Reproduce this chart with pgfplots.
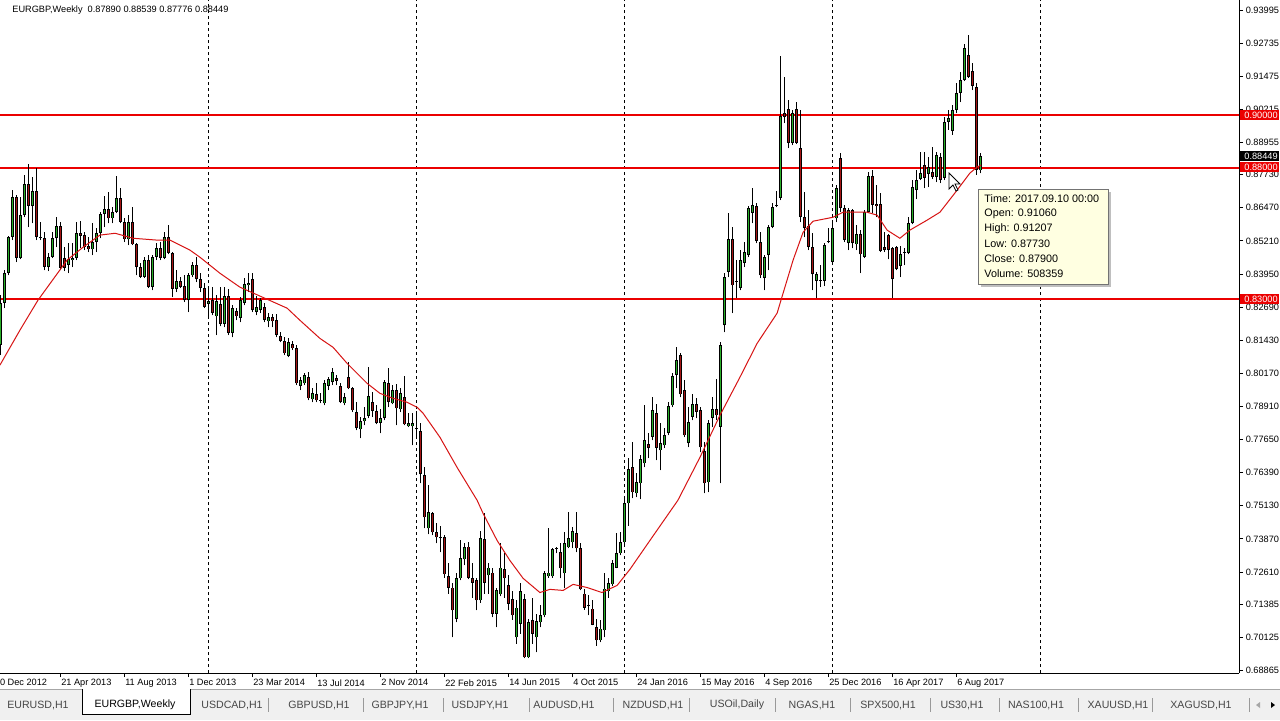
\documentclass[border=0pt]{standalone}
\usepackage{fontspec}
\setmainfont{Liberation Sans}
\usepackage{pgfplots}
\usepackage{pgfplotstable}
\pgfplotsset{compat=1.18}

\definecolor{upc}{RGB}{40,175,40}
\definecolor{dnc}{RGB}{165,20,20}
\definecolor{lvl}{RGB}{235,0,0}
\definecolor{ma}{RGB}{215,20,20}
\definecolor{tabbg}{RGB}{240,240,240}
\definecolor{tabtx}{RGB}{70,70,70}
\definecolor{tipbg}{RGB}{255,255,225}

% weekly candles: index, open, high, low, close
\pgfplotstableread{
i o h l c
0 0.8124 0.8314 0.8086 0.8284
1 0.8284 0.8409 0.8265 0.8398
2 0.8398 0.8539 0.8390 0.8535
3 0.8535 0.8714 0.8524 0.8687
4 0.8687 0.8695 0.8440 0.8455
5 0.8455 0.8687 0.8451 0.8619
6 0.8619 0.8771 0.8611 0.8737
7 0.8737 0.8813 0.8573 0.8653
8 0.8653 0.8764 0.8588 0.8710
9 0.8710 0.8798 0.8524 0.8535
10 0.8535 0.8592 0.8524 0.8532
11 0.8532 0.8554 0.8409 0.8421
12 0.8421 0.8474 0.8406 0.8459
13 0.8459 0.8554 0.8455 0.8531
14 0.8531 0.8611 0.8497 0.8577
15 0.8577 0.8592 0.8409 0.8417
16 0.8455 0.8497 0.8406 0.8417
17 0.8429 0.8512 0.8398 0.8451
18 0.8448 0.8512 0.8421 0.8455
19 0.8455 0.8592 0.8448 0.8550
20 0.8550 0.8596 0.8493 0.8539
21 0.8543 0.8554 0.8486 0.8497
22 0.8501 0.8535 0.8478 0.8489
23 0.8489 0.8588 0.8467 0.8516
24 0.8516 0.8569 0.8478 0.8550
25 0.8550 0.8630 0.8531 0.8623
26 0.8623 0.8691 0.8573 0.8642
27 0.8642 0.8707 0.8588 0.8607
28 0.8607 0.8649 0.8588 0.8630
29 0.8630 0.8767 0.8627 0.8684
30 0.8684 0.8722 0.8588 0.8592
31 0.8592 0.8607 0.8516 0.8527
32 0.8527 0.8619 0.8505 0.8592
33 0.8592 0.8649 0.8505 0.8508
34 0.8508 0.8512 0.8390 0.8421
35 0.8421 0.8436 0.8379 0.8383
36 0.8383 0.8459 0.8379 0.8448
37 0.8448 0.8467 0.8341 0.8345
38 0.8345 0.8467 0.8333 0.8459
39 0.8459 0.8512 0.8448 0.8493
40 0.8493 0.8516 0.8448 0.8455
41 0.8455 0.8554 0.8451 0.8535
42 0.8535 0.8581 0.8470 0.8474
43 0.8474 0.8478 0.8307 0.8337
44 0.8337 0.8409 0.8326 0.8368
45 0.8368 0.8383 0.8341 0.8345
46 0.8349 0.8390 0.8288 0.8295
47 0.8295 0.8398 0.8250 0.8390
48 0.8390 0.8440 0.8383 0.8429
49 0.8429 0.8459 0.8364 0.8375
50 0.8375 0.8398 0.8326 0.8341
51 0.8341 0.8360 0.8265 0.8269
52 0.8280 0.8345 0.8230 0.8291
53 0.8295 0.8345 0.8238 0.8246
54 0.8234 0.8314 0.8162 0.8291
55 0.8280 0.8345 0.8196 0.8204
56 0.8204 0.8345 0.8192 0.8311
57 0.8311 0.8337 0.8162 0.8170
58 0.8170 0.8276 0.8154 0.8265
59 0.8253 0.8265 0.8219 0.8234
60 0.8227 0.8307 0.8211 0.8295
61 0.8284 0.8379 0.8276 0.8356
62 0.8352 0.8398 0.8326 0.8360
63 0.8375 0.8398 0.8250 0.8257
64 0.8250 0.8311 0.8238 0.8269
65 0.8257 0.8303 0.8246 0.8295
66 0.8269 0.8284 0.8211 0.8219
67 0.8215 0.8246 0.8192 0.8230
68 0.8230 0.8242 0.8192 0.8215
69 0.8219 0.8242 0.8154 0.8162
70 0.8158 0.8173 0.8135 0.8139
71 0.8139 0.8154 0.8086 0.8093
72 0.8082 0.8150 0.8078 0.8135
73 0.8128 0.8139 0.8105 0.8112
74 0.8112 0.8124 0.7972 0.7979
75 0.7968 0.8002 0.7953 0.7991
76 0.7979 0.8017 0.7972 0.8010
77 0.8002 0.8021 0.7914 0.7922
78 0.7918 0.7960 0.7907 0.7941
79 0.7937 0.7979 0.7907 0.7914
80 0.7914 0.7941 0.7903 0.7911
81 0.7903 0.7991 0.7895 0.7979
82 0.7968 0.8002 0.7953 0.7994
83 0.7983 0.8036 0.7972 0.8021
84 0.7998 0.8010 0.7972 0.7987
85 0.7968 0.7979 0.7903 0.7907
86 0.7903 0.7941 0.7895 0.7926
87 0.8002 0.8059 0.7956 0.7960
88 0.7960 0.7964 0.7869 0.7876
89 0.7869 0.7907 0.7800 0.7808
90 0.7804 0.7850 0.7770 0.7834
91 0.7834 0.7888 0.7819 0.7846
92 0.7854 0.8040 0.7846 0.7930
93 0.7907 0.7945 0.7850 0.7873
94 0.7873 0.7895 0.7823 0.7827
95 0.7827 0.7880 0.7789 0.7846
96 0.7846 0.7991 0.7838 0.7983
97 0.7979 0.8036 0.7888 0.7907
98 0.7903 0.7972 0.7899 0.7953
99 0.7953 0.7975 0.7819 0.7884
100 0.7880 0.7960 0.7869 0.7941
101 0.7926 0.8006 0.7819 0.7823
102 0.7815 0.7865 0.7812 0.7827
103 0.7815 0.7865 0.7743 0.7827
104 0.7808 0.7873 0.7777 0.7805
105 0.7796 0.7827 0.7598 0.7633
106 0.7629 0.7659 0.7427 0.7469
107 0.7427 0.7591 0.7404 0.7488
108 0.7484 0.7488 0.7400 0.7412
109 0.7412 0.7446 0.7370 0.7393
110 0.7393 0.7438 0.7336 0.7389
111 0.7393 0.7400 0.7240 0.7252
112 0.7244 0.7297 0.7179 0.7202
113 0.7202 0.7218 0.7012 0.7115
114 0.7084 0.7256 0.7069 0.7237
115 0.7237 0.7381 0.7229 0.7313
116 0.7309 0.7370 0.7286 0.7355
117 0.7358 0.7374 0.7233 0.7240
118 0.7237 0.7294 0.7164 0.7221
119 0.7229 0.7240 0.7115 0.7153
120 0.7153 0.7419 0.7145 0.7389
121 0.7385 0.7484 0.7179 0.7221
122 0.7248 0.7297 0.7179 0.7278
123 0.7259 0.7278 0.7088 0.7103
124 0.7103 0.7202 0.7050 0.7191
125 0.7176 0.7370 0.7168 0.7278
126 0.7271 0.7332 0.7164 0.7237
127 0.7210 0.7248 0.7115 0.7141
128 0.7157 0.7187 0.7080 0.7096
129 0.7012 0.7153 0.6989 0.7126
130 0.7065 0.7221 0.7027 0.7187
131 0.7157 0.7179 0.6932 0.6936
132 0.6936 0.7084 0.6932 0.7069
133 0.7077 0.7161 0.6989 0.7027
134 0.7012 0.7103 0.6955 0.7073
135 0.7069 0.7134 0.7050 0.7096
136 0.7096 0.7263 0.7088 0.7256
137 0.7244 0.7427 0.7240 0.7259
138 0.7244 0.7351 0.7240 0.7347
139 0.7351 0.7355 0.7332 0.7348
140 0.7336 0.7370 0.7237 0.7275
141 0.7256 0.7412 0.7202 0.7370
142 0.7355 0.7488 0.7351 0.7389
143 0.7374 0.7431 0.7351 0.7416
144 0.7408 0.7488 0.7336 0.7351
145 0.7351 0.7370 0.7191 0.7195
146 0.7179 0.7198 0.7118 0.7126
147 0.7134 0.7172 0.7096 0.7130
148 0.7122 0.7153 0.7058 0.7061
149 0.7050 0.7084 0.6981 0.7001
150 0.7001 0.7080 0.6993 0.7046
151 0.7039 0.7256 0.7012 0.7198
152 0.7187 0.7240 0.7164 0.7218
153 0.7214 0.7305 0.7206 0.7294
154 0.7278 0.7408 0.7275 0.7332
155 0.7332 0.7412 0.7324 0.7374
156 0.7374 0.7541 0.7366 0.7522
157 0.7522 0.7694 0.7438 0.7652
158 0.7659 0.7754 0.7541 0.7564
159 0.7560 0.7636 0.7545 0.7602
160 0.7598 0.7705 0.7537 0.7690
161 0.7674 0.7895 0.7659 0.7762
162 0.7747 0.7789 0.7694 0.7732
163 0.7774 0.7926 0.7762 0.7876
164 0.7865 0.7899 0.7686 0.7732
165 0.7724 0.7827 0.7648 0.7751
166 0.7743 0.7808 0.7732 0.7781
167 0.7789 0.7907 0.7781 0.7892
168 0.7895 0.8017 0.7888 0.8006
169 0.8010 0.8116 0.7960 0.8067
170 0.8086 0.8093 0.7926 0.7937
171 0.7953 0.7991 0.7774 0.7781
172 0.7751 0.7888 0.7735 0.7831
173 0.7850 0.7937 0.7838 0.7899
174 0.7899 0.7922 0.7846 0.7869
175 0.7876 0.7888 0.7716 0.7735
176 0.7720 0.7754 0.7560 0.7598
177 0.7602 0.7838 0.7564 0.7827
178 0.7846 0.7926 0.7812 0.7880
179 0.7880 0.7994 0.7838 0.7857
180 0.7812 0.8135 0.7598 0.8124
181 0.8200 0.8398 0.8173 0.8383
182 0.8402 0.8627 0.8383 0.8527
183 0.8527 0.8573 0.8246 0.8352
184 0.8368 0.8448 0.8303 0.8364
185 0.8341 0.8486 0.8333 0.8448
186 0.8436 0.8516 0.8421 0.8478
187 0.8467 0.8653 0.8459 0.8646
188 0.8627 0.8722 0.8588 0.8657
189 0.8653 0.8665 0.8512 0.8520
190 0.8516 0.8554 0.8379 0.8390
191 0.8379 0.8467 0.8333 0.8459
192 0.8467 0.8581 0.8409 0.8573
193 0.8573 0.8665 0.8569 0.8649
194 0.8653 0.8710 0.8649 0.8656
195 0.8684 0.9224 0.8676 0.8996
196 0.9007 0.9144 0.8969 0.8992
197 0.9023 0.9057 0.8874 0.8893
198 0.8893 0.9019 0.8885 0.9007
199 0.9023 0.9049 0.8889 0.8893
200 0.8874 0.9019 0.8592 0.8611
201 0.8611 0.8707 0.8535 0.8569
202 0.8577 0.8638 0.8486 0.8497
203 0.8497 0.8550 0.8333 0.8394
204 0.8368 0.8402 0.8303 0.8394
205 0.8368 0.8429 0.8345 0.8372
206 0.8368 0.8512 0.8349 0.8505
207 0.8520 0.8569 0.8512 0.8516
208 0.8440 0.8600 0.8440 0.8569
209 0.8607 0.8733 0.8592 0.8722
210 0.8836 0.8855 0.8630 0.8646
211 0.8646 0.8657 0.8516 0.8524
212 0.8512 0.8646 0.8486 0.8638
213 0.8638 0.8642 0.8493 0.8512
214 0.8508 0.8581 0.8486 0.8546
215 0.8546 0.8562 0.8398 0.8470
216 0.8459 0.8638 0.8455 0.8630
217 0.8630 0.8783 0.8627 0.8767
218 0.8767 0.8790 0.8627 0.8657
219 0.8661 0.8733 0.8611 0.8653
220 0.8661 0.8703 0.8478 0.8482
221 0.8497 0.8554 0.8478 0.8486
222 0.8543 0.8546 0.8451 0.8486
223 0.8493 0.8497 0.8303 0.8375
224 0.8497 0.8501 0.8409 0.8413
225 0.8425 0.8501 0.8383 0.8470
226 0.8478 0.8493 0.8429 0.8475
227 0.8474 0.8611 0.8470 0.8588
228 0.8588 0.8752 0.8584 0.8726
229 0.8714 0.8790 0.8680 0.8752
230 0.8756 0.8859 0.8752 0.8779
231 0.8809 0.8859 0.8722 0.8760
232 0.8775 0.8840 0.8726 0.8802
233 0.8783 0.8878 0.8756 0.8764
234 0.8764 0.8859 0.8745 0.8847
235 0.8840 0.8855 0.8741 0.8752
236 0.8760 0.8992 0.8752 0.8973
237 0.8973 0.9019 0.8943 0.8988
238 0.8939 0.9038 0.8924 0.9019
239 0.9019 0.9122 0.9007 0.9083
240 0.9083 0.9163 0.9049 0.9133
241 0.9133 0.9270 0.9129 0.9255
242 0.9228 0.9304 0.9141 0.9144
243 0.9167 0.9198 0.9095 0.9110
244 0.91060 0.91207 0.87730 0.87900
245 0.87890 0.88539 0.87776 0.88449
}\candles

% moving average line
\pgfplotstableread{
i ma
-0.1 0.8048
4.9 0.8181
9.4 0.8295
16.7 0.8448
20.7 0.8497
24.9 0.8543
28.7 0.8550
33.2 0.8531
39.2 0.8524
42.4 0.8524
47.4 0.8486
49.9 0.8459
54.9 0.8398
59.9 0.8345
66.7 0.8299
71.7 0.8265
74.9 0.8219
79.9 0.8150
83.2 0.8116
86.7 0.8055
91.7 0.7979
94.9 0.7941
98.2 0.7922
101.7 0.7907
104.2 0.7888
105.7 0.7865
109.9 0.7774
114.2 0.7659
119.2 0.7534
120.7 0.7484
124.2 0.7381
127.4 0.7305
130.7 0.7237
134.9 0.7183
137.4 0.7195
140.7 0.7191
143.2 0.7214
146.7 0.7202
150.4 0.7183
154.2 0.7210
157.4 0.7271
162.4 0.7381
169.4 0.7534
174.9 0.7697
179.9 0.7857
184.9 0.8002
189.2 0.8131
194.2 0.8246
195.4 0.8307
198.2 0.8448
200.7 0.8554
203.2 0.8596
208.2 0.8611
210.7 0.8630
216.7 0.8630
219.2 0.8619
221.7 0.8562
224.9 0.8531
227.4 0.8562
231.7 0.8600
234.9 0.8630
239.2 0.8714
242.4 0.8779
244.2 0.8802
245.2 0.8809
}\mavg

\pgfplotsset{
  nomark/.style={forget plot, only marks, mark=*, mark size=0pt,
    mark options={draw=none, fill=none}},
}

\begin{document}
\begin{tikzpicture}
\path[use as bounding box, fill=white] (0pt,0pt) rectangle (640pt,-360pt);

\begin{axis}[
  at={(0pt,-336.5pt)}, anchor=south west,
  scale only axis, width=619.5pt, height=336.5pt,
  xmin=-0.075, xmax=309.675, ymin=0.68767, ymax=0.94376,
  enlargelimits=false,
  axis x line*=bottom, axis y line*=right,
  axis line style={black, line width=0.5pt},
  tick align=outside, major tick length=2pt,
  tick style={black, line width=0.5pt},
  /pgf/number format/assume math mode=true,
  tick label style={font=\fontsize{4.6}{5}\selectfont, inner sep=0pt},
  xtick={15,31,...,239},
  xticklabels={21 Apr 2013, 11 Aug 2013, 1 Dec 2013, 23 Mar 2014, 13 Jul 2014, 2 Nov 2014, 22 Feb 2015, 14 Jun 2015, 4 Oct 2015, 24 Jan 2016, 15 May 2016, 4 Sep 2016, 25 Dec 2016, 16 Apr 2017, 6 Aug 2017},
  xticklabel style={anchor=north west, xshift=0.3pt, yshift=-1pt},
  extra x ticks={52,104,156,208,260},
  extra x tick labels={},
  extra x tick style={grid=major, major tick length=0pt,
    major grid style={black, line width=0.5pt, dash pattern=on 1.5pt off 1.5pt}},
  ytick={0.68865,0.70125,0.71385,0.72610,0.73870,0.75130,0.76390,0.77650,0.78910,0.80170,0.81430,0.82690,0.83950,0.85210,0.86470,0.87730,0.88955,0.90215,0.91475,0.92735,0.93995},
  yticklabels={0.68865,0.70125,0.71385,0.72610,0.73870,0.75130,0.76390,0.77650,0.78910,0.80170,0.81430,0.82690,0.83950,0.85210,0.86470,0.87730,0.88955,0.90215,0.91475,0.92735,0.93995},
  yticklabel style={anchor=west, xshift=1.2pt},
]
% horizontal levels
\addplot[lvl, line width=1pt, forget plot] coordinates {(-1,0.90) (320,0.90)};
\addplot[lvl, line width=1pt, forget plot] coordinates {(-1,0.88) (320,0.88)};
\addplot[lvl, line width=1pt, forget plot] coordinates {(-1,0.83) (320,0.83)};

% wicks
\addplot[nomark, error bars/.cd, y dir=plus, y explicit, error mark=none,
  error bar style={line width=0.5pt, black}]
  table[x=i, y=l, y error plus expr=\thisrow{h}-\thisrow{l}] {\candles};

% up bodies: black frame, green inside
\addplot[nomark, restrict expr to domain={\thisrow{c}-\thisrow{o}}{0:1},
  error bars/.cd, y dir=plus, y explicit, error mark=none,
  error bar style={line width=1.6pt, black}]
  table[x=i, y=o, y error plus expr=\thisrow{c}-\thisrow{o}] {\candles};
\addplot[nomark, restrict expr to domain={\thisrow{c}-\thisrow{o}}{0:1},
  error bars/.cd, y dir=plus, y explicit, error mark=none,
  error bar style={line width=0.8pt, upc}]
  table[x=i, y expr=\thisrow{o}+0.0003, y error plus expr={max(\thisrow{c}-\thisrow{o}-0.0006,0)}] {\candles};

% down bodies: black frame, red inside
\addplot[nomark, restrict expr to domain={\thisrow{c}-\thisrow{o}}{-1:0},
  error bars/.cd, y dir=plus, y explicit, error mark=none,
  error bar style={line width=1.6pt, black}]
  table[x=i, y=c, y error plus expr=\thisrow{o}-\thisrow{c}] {\candles};
\addplot[nomark, restrict expr to domain={\thisrow{c}-\thisrow{o}}{-1:0},
  error bars/.cd, y dir=plus, y explicit, error mark=none,
  error bar style={line width=0.8pt, dnc}]
  table[x=i, y expr=\thisrow{c}+0.0003, y error plus expr={max(\thisrow{o}-\thisrow{c}-0.0006,0)}] {\candles};

% moving average
\addplot[ma, line width=0.5pt, forget plot] table[x=i, y=ma] {\mavg};
\end{axis}

\begin{scope}[x=0.5pt,y=-0.5pt, font=\fontsize{4.6}{5}\selectfont]
  % first date label, cut at the left edge as on screen
  \node[anchor=north west, inner sep=0pt] at (-5.5,679) {30 Dec 2012};
  % title
  \node[anchor=west, inner sep=0pt] at (12,10) {EURGBP,Weekly\ \ 0.87890 0.88539 0.87776 0.88449};
  % price boxes on the right
  \fill[lvl] (1240,110) rectangle (1279,120);
  \node[anchor=west, inner sep=0pt, white] at (1244,115) {0.90000};
  \fill[black] (1240,151) rectangle (1279,161);
  \node[anchor=west, inner sep=0pt, white] at (1244,156) {0.88449};
  \fill[lvl] (1240,162) rectangle (1279,172);
  \node[anchor=west, inner sep=0pt, white] at (1244,167) {0.88000};
  \fill[lvl] (1240,294) rectangle (1279,304);
  \node[anchor=west, inner sep=0pt, white] at (1244,299) {0.83000};
  % tooltip
  \fill[black!25] (981,192) rectangle (1111,287);
  \filldraw[fill=tipbg, draw=black!55, line width=0.5pt] (978,189) rectangle (1108,284);
  \begin{scope}[font=\fontsize{5.4}{6}\selectfont]
    \node[anchor=west, inner sep=0pt] at (984,199) {Time: 2017.09.10 00:00};
    \node[anchor=west, inner sep=0pt] at (984,214) {Open: 0.91060};
    \node[anchor=west, inner sep=0pt] at (984,229) {High: 0.91207};
    \node[anchor=west, inner sep=0pt] at (984,244) {Low: 0.87730};
    \node[anchor=west, inner sep=0pt] at (984,259) {Close: 0.87900};
    \node[anchor=west, inner sep=0pt] at (984,274) {Volume: 508359};
  \end{scope}
  % mouse cursor
  \filldraw[fill=white, draw=black, line width=0.4pt]
    (949,173) -- (949,189) -- (953,185) -- (956,191) -- (958,190) -- (955,184) -- (960,184) -- cycle;
  % tab strip
  \fill[tabbg] (0,689) rectangle (1280,720);
  \draw[black!35, line width=0.5pt] (0,689) -- (82,689);
  \draw[black!35, line width=0.5pt] (190,689) -- (1280,689);
  \fill[white] (82,688) rectangle (190,714);
  \draw[black, line width=0.5pt] (82,689) -- (82,714) -- (190,714) -- (190,689);
  \begin{scope}[font=\fontsize{5.3}{6}\selectfont]
    \node[tabtx] at (38,705) {EURUSD,H1};
    \node[black] at (135,705) {EURGBP,Weekly};
    \node[tabtx] at (232,705) {USDCAD,H1};
    \node[tabtx] at (319,705) {GBPUSD,H1};
    \node[tabtx] at (400,705) {GBPJPY,H1};
    \node[tabtx] at (480,705) {USDJPY,H1};
    \node[tabtx] at (564,705) {AUDUSD,H1};
    \node[tabtx] at (653,705) {NZDUSD,H1};
    \node[tabtx] at (737,705) {USOil,Daily};
    \node[tabtx] at (812,705) {NGAS,H1};
    \node[tabtx] at (888,705) {SPX500,H1};
    \node[tabtx] at (962,705) {US30,H1};
    \node[tabtx] at (1036,705) {NAS100,H1};
    \node[tabtx] at (1118,705) {XAUUSD,H1};
    \node[tabtx] at (1201,705) {XAGUSD,H1};
  \end{scope}
  \foreach \s in {268,363,443,529,613,689,775,850,930,999,1078,1152,1249}
    \draw[black!40, line width=0.5pt] (\s,698) -- (\s,712);
  \fill[black!35] (1260,702) -- (1256,705) -- (1260,708) -- cycle;
  \fill[black] (1271,702) -- (1275,705) -- (1271,708) -- cycle;
\end{scope}
\end{tikzpicture}
\end{document}
